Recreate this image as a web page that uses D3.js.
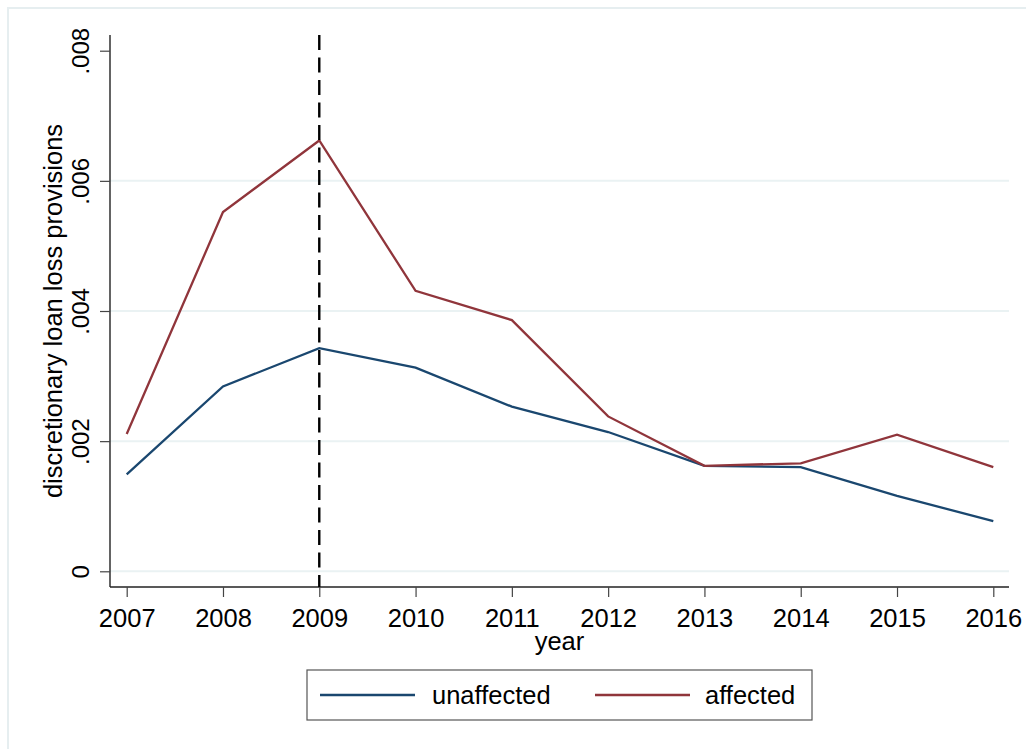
<!DOCTYPE html>
<html>
<head>
<meta charset="utf-8">
<script src="https://cdn.jsdelivr.net/npm/d3@7"></script>
<style>
  html, body { margin: 0; padding: 0; background: #fff; }
  svg { display: block; font-family: "Liberation Sans", Arial, Helvetica, sans-serif; }
</style>
</head>
<body>
<svg id="chart" width="1026" height="749"></svg>
<script>
// Discretionary loan loss provisions by year, affected vs unaffected banks
const years = [2007, 2008, 2009, 2010, 2011, 2012, 2013, 2014, 2015, 2016];
const unaffected = [0.00149, 0.00284, 0.00343, 0.00313, 0.00253, 0.00214, 0.00162, 0.00160, 0.00116, 0.00077];
const affected   = [0.00211, 0.00552, 0.00662, 0.00431, 0.00386, 0.00238, 0.00162, 0.00166, 0.00210, 0.00160];
const yTicks = [0, 0.002, 0.004, 0.006, 0.008];
const yTickLabels = ["0", ".002", ".004", ".006", ".008"];
const gridValues = [0, 0.002, 0.004, 0.006];
const eventYear = 2009;
const seriesNames = ["unaffected", "affected"];
const seriesColors = ["#1a476f", "#90353b"];

const svg = d3.select("#chart");

// outer graph region border
svg.append("rect")
  .attr("x", 8).attr("y", 8).attr("width", 1040).attr("height", 760)
  .attr("fill", "none").attr("stroke", "#e6eef0").attr("stroke-width", 2);

const plot = { left: 110, right: 1009, top: 35, bottom: 587 };

const x = d3.scaleLinear().domain([2007, 2016]).range([126.7, 993.3]);
const y = d3.scaleLinear().domain([0, 0.008]).range([571.3, 50.7]);

// horizontal gridlines
svg.append("g").selectAll("line").data(gridValues).join("line")
  .attr("x1", plot.left).attr("x2", plot.right)
  .attr("y1", d => y(d)).attr("y2", d => y(d))
  .attr("stroke", "#eaf2f3").attr("stroke-width", 2);

// y axis
const yAxis = svg.append("g")
  .attr("transform", `translate(${plot.left},0)`)
  .call(d3.axisLeft(y).tickValues(yTicks).tickSize(10).tickFormat((d, i) => yTickLabels[i]));
yAxis.select(".domain").attr("d", `M0,${plot.top}V${plot.bottom}`)
  .attr("stroke", "#222").attr("stroke-width", 1.4);
yAxis.selectAll(".tick line").attr("stroke", "#444").attr("stroke-width", 1.2);
yAxis.selectAll(".tick text")
  .attr("x", 0).attr("y", 0)
  .attr("transform", "translate(-21,0) rotate(-90)")
  .attr("text-anchor", "middle")
  .attr("dy", 0)
  .attr("font-size", 24)
  .attr("font-family", "Liberation Sans, Arial, sans-serif")
  .attr("fill", "#000");

// x axis
const xAxis = svg.append("g")
  .attr("transform", `translate(0,${plot.bottom})`)
  .call(d3.axisBottom(x).tickValues(years).tickSize(10).tickFormat(d3.format("d")));
xAxis.select(".domain").attr("d", `M${plot.left},0H${plot.right}`)
  .attr("stroke", "#222").attr("stroke-width", 1.4);
xAxis.selectAll(".tick line").attr("stroke", "#444").attr("stroke-width", 1.2);
xAxis.selectAll(".tick text")
  .attr("y", 40).attr("dy", 0)
  .attr("font-size", 25.5)
  .attr("font-family", "Liberation Sans, Arial, sans-serif")
  .attr("fill", "#000");

// axis titles
svg.append("text")
  .attr("transform", `translate(62,${(plot.top + plot.bottom) / 2}) rotate(-90)`)
  .attr("text-anchor", "middle")
  .attr("font-size", 25.5)
  .text("discretionary loan loss provisions");

svg.append("text")
  .attr("x", (plot.left + plot.right) / 2).attr("y", 650)
  .attr("text-anchor", "middle")
  .attr("font-size", 25.5)
  .text("year");

// series lines
const line = d3.line().x((d, i) => x(years[i])).y(d => y(d));
[unaffected, affected].forEach((vals, k) => {
  svg.append("path")
    .datum(vals)
    .attr("d", line)
    .attr("fill", "none")
    .attr("stroke", seriesColors[k])
    .attr("stroke-width", 2.3)
    .attr("stroke-linejoin", "miter");
});

// vertical reference line at the event year
svg.append("line")
  .attr("x1", x(eventYear)).attr("x2", x(eventYear))
  .attr("y1", plot.top).attr("y2", plot.bottom)
  .attr("stroke", "#000").attr("stroke-width", 2.4)
  .attr("stroke-dasharray", "15,7.5");

// legend
const legend = svg.append("g");
legend.append("rect")
  .attr("x", 307).attr("y", 670).attr("width", 505).attr("height", 50)
  .attr("fill", "#fff").attr("stroke", "#555").attr("stroke-width", 1.2);
const legendItems = [
  { x1: 320, x2: 415, tx: 432 },
  { x1: 595, x2: 690, tx: 705 }
];
legendItems.forEach((it, k) => {
  legend.append("line")
    .attr("x1", it.x1).attr("x2", it.x2)
    .attr("y1", 695).attr("y2", 695)
    .attr("stroke", seriesColors[k]).attr("stroke-width", 2.3);
  legend.append("text")
    .attr("x", it.tx).attr("y", 704)
    .attr("font-size", 25.5)
    .text(seriesNames[k]);
});
</script>
</body>
</html>
